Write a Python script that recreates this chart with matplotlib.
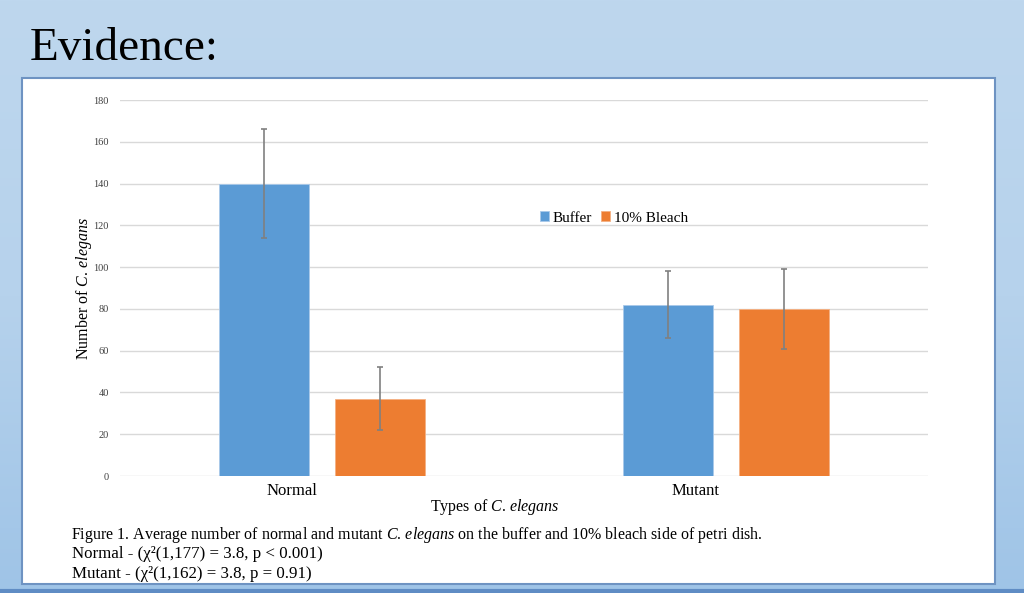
import matplotlib
matplotlib.use("Agg")
import matplotlib.pyplot as plt
import matplotlib.transforms as mtransforms
from matplotlib.patches import Rectangle
import numpy as np

# data
categories = ["Normal", "Mutant"]
buffer_vals = [140, 82]
bleach_vals = [37, 80]
buffer_err = [26, 16]
bleach_err = [15, 19]
series_names = ["Buffer", "10% Bleach"]

plt.rcParams['font.family'] = ['Liberation Serif', 'DejaVu Serif']
plt.rcParams['mathtext.fontset'] = 'custom'
plt.rcParams['mathtext.rm'] = 'Liberation Serif'
plt.rcParams['mathtext.it'] = 'Liberation Serif:italic'

fig = plt.figure(figsize=(10.24, 5.93), dpi=100)

# slide background gradient
bg = fig.add_axes([0, 0, 1, 1], zorder=-10)
grad = np.linspace(0, 1, 256).reshape(-1, 1)
cmap = matplotlib.colors.LinearSegmentedColormap.from_list("bg", ["#bed7ee", "#b6d2ec", "#9fc4e7"])
bg.imshow(grad, aspect='auto', cmap=cmap, extent=[0, 1, 0, 1], origin='upper')
bg.axhline(0.004, color="#5f8cc4", lw=3)
bg.set_xlim(0, 1)
bg.set_ylim(0, 1)
bg.axis('off')

# white chart box
fig.patches.append(Rectangle((22/1024, 1-584/593), (995-22)/1024, (584-78)/593,
                             transform=fig.transFigure, facecolor='white',
                             edgecolor='#6e93c2', lw=1.5, zorder=-5))

fig.text(30/1024, 1-49/593, "Evidence:", fontsize=34, va='center', ha='left')

ax = fig.add_axes([120/1024, 1-476/593, 808/1024, 376/593])
x = np.arange(len(categories))
w = 0.223
off = 0.143
ekw = dict(ecolor='#808080', elinewidth=1.2, capsize=2.5, capthick=1.2)
ax.bar(x - off, buffer_vals, w, yerr=buffer_err, color='#5b9bd5', label=series_names[0],
       edgecolor='#a9c9ea', linewidth=0.6, error_kw=ekw, zorder=3)
ax.bar(x + off, bleach_vals, w, yerr=bleach_err, color='#ed7d31', label=series_names[1],
       edgecolor='#f4b183', linewidth=0.6, error_kw=ekw, zorder=3)

ax.set_xlim(-0.5, 1.5)
ax.set_ylim(0, 180)
ax.set_yticks(range(0, 181, 20))
ax.grid(axis='y', color='#d9d9d9', lw=1, zorder=0)
for s in ax.spines.values():
    s.set_visible(False)
ax.tick_params(axis='both', length=0)
ax.tick_params(axis='y', labelsize=7.5, pad=8, labelcolor='#404040')
ax.set_xticks(x)
ax.set_xticklabels(categories, fontsize=12)
ax.tick_params(axis='x', pad=5)
shift = mtransforms.ScaledTranslation(-30/100, 0, fig.dpi_scale_trans)
for lab in ax.get_xticklabels():
    lab.set_transform(lab.get_transform() + shift)

fig.text(495/1024, 1-507/593, r"Types of $\mathit{C.\,elegans}$", fontsize=11.5,
         ha='center', va='center')
fig.text(84/1024, 1-288/593, r"Number of $\mathit{C.\,elegans}$", fontsize=11.5,
         ha='center', va='center', rotation=90)

fig.legend(loc='center', bbox_to_anchor=(614/1024, 1-218/593), ncol=2, frameon=False,
           fontsize=11, handlelength=0.6, handleheight=0.6, handletextpad=0.25,
           columnspacing=0.6)

cap_x = 71/1024
fig.text(cap_x, 1-535/593,
         r"Figure 1. Average number of normal and mutant $\mathit{C.\,elegans}$ on the buffer and 10% bleach side of petri dish.",
         fontsize=11.5, va='center', ha='left')
fig.text(72/1024, 1-554/593, "Normal - (χ²(1,177) = 3.8, p < 0.001)", fontsize=12.2, va='center', ha='left')
fig.text(72/1024, 1-574/593, "Mutant - (χ²(1,162) = 3.8, p = 0.91)", fontsize=12.2, va='center', ha='left')

fig.savefig("out.png", dpi=100)
